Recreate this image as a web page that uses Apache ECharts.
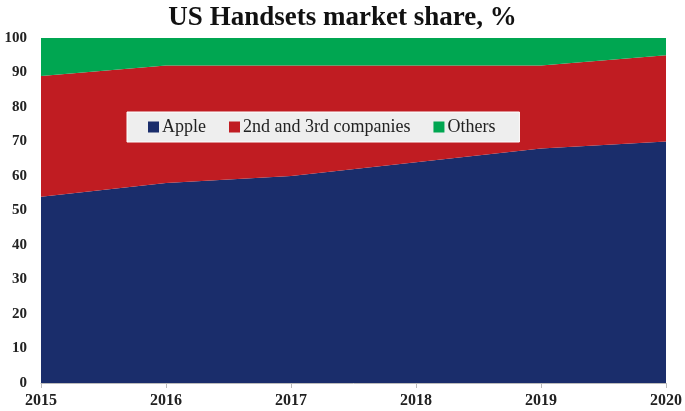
<!DOCTYPE html>
<html><head><meta charset="utf-8">
<script src="https://cdn.jsdelivr.net/npm/echarts@6/dist/echarts.min.js"></script>
<style>html,body{margin:0;padding:0;background:#fff}#c{width:685px;height:411px}</style>
</head><body><div id="c"></div>
<script>
const years = ['2015','2016','2017','2018','2019','2020'];
const apple = [54, 58, 60, 64, 68, 70];
const second = [35, 34, 32, 28, 24, 25];
const others = [11, 8, 8, 8, 8, 5];

const serif = '"Liberation Serif", "DejaVu Serif", serif';
const chart = echarts.init(document.getElementById('c'));
function s(name, data, color) {
  return {name, type:'line', stack:'t', data, symbol:'none', smooth:false,
    lineStyle:{width:0}, areaStyle:{color, opacity:1}, itemStyle:{color}};
}
chart.setOption({
  animation:false,
  title:{text:'US Handsets market share, %', left:'center', top:0,
    textStyle:{fontFamily:serif, fontWeight:'bold', fontSize:27, color:'#111'}},
  grid:{left:41, right:18, top:38, bottom:28},
  legend:{top:112, left:127, itemGap:23, itemWidth:11, itemHeight:11,
    padding:[6,24,6,21],
    backgroundColor:'#eeeeee', borderColor:'#ffffff', borderWidth:1,
    icon:'rect', textStyle:{fontFamily:serif, fontSize:18, color:'#222', padding:[0,0,0,-2]},
    data:['Apple','2nd and 3rd companies','Others']},
  xAxis:{type:'category', data:years, boundaryGap:false,
    axisLine:{lineStyle:{color:'#bbb'}}, axisTick:{show:true, lineStyle:{color:'#bbb'}},
    axisLabel:{fontFamily:serif, fontWeight:'bold', fontSize:16, color:'#222', margin:10,
      showMinLabel:true, showMaxLabel:true},
    splitLine:{show:false}},
  yAxis:{type:'value', min:0, max:100, interval:10,
    axisLine:{show:false}, axisTick:{show:false},
    axisLabel:{fontFamily:serif, fontWeight:'bold', fontSize:15, color:'#222', margin:14},
    splitLine:{show:false}},
  series:[s('Apple', apple, '#1a2d6b'), s('2nd and 3rd companies', second, '#c01c22'), s('Others', others, '#00a651')]
});
</script></body></html>
